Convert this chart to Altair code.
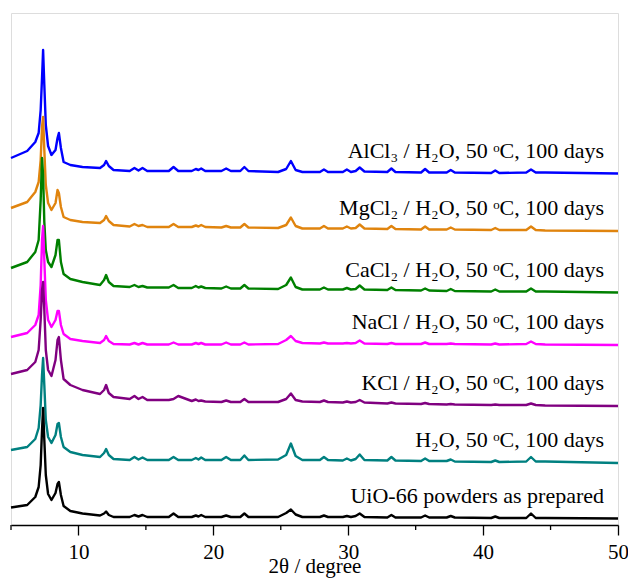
import altair as alt
import pandas as pd

# 2theta grid (degree)
theta = [5.0, 6.2, 6.8, 7.05, 7.2, 7.3, 7.38, 7.47, 7.58, 7.75, 8.0, 8.3, 8.45, 8.55, 8.7, 8.9,
         9.4, 10.3, 11.6, 11.9, 12.05, 12.25, 12.6, 13.8, 14.15, 14.45, 14.75, 15.1, 16.7, 17.05,
         17.4, 18.4, 18.7, 18.9, 19.1, 19.4, 20.6, 20.95, 21.3, 22.0, 22.3, 22.6, 24.8, 25.4,
         25.75, 26.1, 26.6, 27.9, 28.2, 28.5, 29.6, 29.9, 30.2, 30.55, 30.85, 31.2, 32.9, 33.2,
         33.5, 35.4, 35.7, 36.0, 37.3, 37.6, 37.9, 40.6, 40.9, 41.2, 43.2, 43.55, 43.9, 44.6, 50.0]

alcl3 = [367, 374, 383, 392, 415, 447, 475, 440, 400, 379, 370, 375, 387, 392, 377, 363, 360, 358,
         357, 360, 364, 359, 355, 354, 357, 354.5, 357, 354, 354, 358, 354, 354, 356, 355, 356.5,
         354, 354, 356.5, 354, 354, 358, 354, 353, 356, 364, 355, 353, 353, 355.5, 353, 353, 355.5,
         353, 354, 357.5, 353.5, 353, 356.5, 353, 352.5, 356, 352.5, 352.5, 355, 352.5, 352, 354.5,
         352, 352.5, 355.5, 352.5, 352.5, 351.5]
mgcl2 = [317, 323, 333, 343, 365, 398, 408, 375, 340, 322, 315, 322, 335, 332, 318, 308, 305, 303,
         302, 305, 309, 304, 300, 298.5, 301, 299, 300, 298, 298, 301, 298, 298, 299.5, 298.5, 300,
         298, 297.5, 299, 297.5, 297.5, 301, 297.5, 297, 300, 307.5, 299, 296.5, 296.5, 299, 296.5,
         296.5, 298.5, 296.5, 297, 300.5, 296.5, 296, 299, 296, 295.5, 298.5, 295.5, 295.5, 297.5,
         295.5, 295, 297, 295, 295, 298.5, 295, 294.5, 294]
cacl2 = [257, 263, 273, 285, 325, 367, 350, 303, 275, 263, 258, 270, 285, 285, 263, 251, 246, 243,
         240, 245, 250, 243, 239, 238, 240, 238, 239, 237.5, 237.5, 240, 237, 237, 239, 237.5, 238.5,
         237, 236.5, 238.5, 236.5, 236.5, 240, 236.5, 236, 240, 247.5, 238, 235.5, 235.5, 237.5,
         235.5, 235.5, 237, 235.5, 236, 239.5, 235.5, 235, 237.5, 235, 234.5, 236.5, 234.5, 234, 236,
         234, 233.5, 235.5, 233.5, 233.5, 236.5, 233.5, 233.5, 232.5]
nacl = [188, 192, 200, 210, 240, 285, 299, 265, 225, 205, 198, 205, 214, 214, 200, 191, 186, 184,
        182, 185, 189, 184, 181, 180.5, 182, 180.5, 182, 180.5, 180.5, 182.5, 180.5, 180.5, 182, 181,
        182, 180.5, 180.5, 182.5, 180.5, 180.5, 182.5, 180.5, 181, 185, 189, 184, 182, 181.5, 182.5,
        181.5, 181.5, 182, 181.5, 182, 184.5, 181.5, 181, 182, 181, 181, 182.5, 181, 181, 181.5, 181,
        180.5, 181.5, 180.5, 181, 183.5, 181, 180.5, 180]
kcl = [151, 155, 163, 175, 205, 235, 243, 215, 175, 155, 149, 165, 185, 188, 165, 146, 140, 135,
       131, 135, 140, 132, 128, 126, 129, 126, 128, 125, 125, 126, 129, 124, 125.5, 124, 124.5, 123.5,
       123, 124.5, 123, 123, 126, 123, 123, 126, 131.5, 125, 123.5, 123, 124.5, 123, 122.5, 123.5,
       122.5, 123, 125, 122.5, 121.5, 122.5, 121.5, 121, 122, 121, 120.5, 121, 120.5, 120, 120.5,
       120, 120, 121.5, 120, 119.5, 119]
h2o = [75, 78, 86, 97, 120, 150, 167, 140, 105, 88, 82, 90, 101, 102, 88, 78, 73, 70, 68, 72, 76,
       70, 66, 65, 68, 65.5, 67.5, 65, 65, 68, 65, 65, 67, 65.5, 67.5, 65, 65, 68, 65, 65, 69.5, 65,
       65.5, 70, 81.5, 69, 65, 65, 68, 65, 64.5, 66.5, 64.5, 66, 70.5, 65, 64.5, 68, 64.5, 64, 66.5,
       64, 64, 65.5, 63.5, 63, 64.5, 63, 63.5, 68, 63.5, 63.5, 62]
uio66 = [17.5, 20, 28, 38, 60, 95, 117, 85, 50, 31, 25, 32, 41, 43, 30, 19, 14, 11.5, 9.5, 11.5,
         13.5, 10, 8, 8, 10, 8.5, 10, 8, 8, 11.5, 8, 8, 9.5, 8.5, 10, 8, 8, 9.5, 8, 8, 11.5, 8, 8, 12,
         15.5, 10.5, 8, 8, 9.5, 8, 8, 9, 8, 9, 11.5, 8, 7.5, 10, 7.5, 7.5, 9.5, 7.5, 7.5, 9, 7.5, 7,
         8.5, 7, 7, 11.5, 7, 7, 6.5]

labels = ["AlCl\u2083 / H\u2082O, 50 \u1d52C, 100 days",
          "MgCl\u2082 / H\u2082O, 50 \u1d52C, 100 days",
          "CaCl\u2082 / H\u2082O, 50 \u1d52C, 100 days",
          "NaCl / H\u2082O, 50 \u1d52C, 100 days",
          "KCl / H\u2082O, 50 \u1d52C, 100 days",
          "H\u2082O, 50 \u1d52C, 100 days",
          "UiO-66 powders as prepared"]
colors = ["#0000FF", "#E0840E", "#008000", "#FF00FF", "#800080", "#008080", "#000000"]
series = [alcl3, mgcl2, cacl2, nacl, kcl, h2o, uio66]

major_ticks = [10, 20, 30, 40, 50]
minor_ticks = [5, 15, 25, 35, 45]

FONT = "Times New Roman, Liberation Serif, serif"
W, H = 607, 512

xscale = alt.Scale(domain=[5, 50], nice=False, zero=False)
yscale = alt.Scale(domain=[0, 512], nice=False, zero=False)
xaxis = alt.Axis(values=major_ticks, title="2θ / degree", grid=False, tickSize=10,
                 tickWidth=1.3, domainWidth=1.3, tickColor="black", domainColor="black",
                 labelFont=FONT, labelFontSize=21, labelColor="black", labelPadding=6,
                 labelFlush=False, labelOverlap=False,
                 titleFont=FONT, titleFontSize=21, titleFontWeight="normal", titleColor="black",
                 titlePadding=-7)

layers = []
for vals, col in zip(series, colors):
    df = pd.DataFrame({"theta": theta, "intensity": vals})
    layers.append(
        alt.Chart(df).mark_line(color=col, strokeWidth=2.4, strokeJoin="round").encode(
            x=alt.X("theta:Q", scale=xscale, axis=xaxis),
            y=alt.Y("intensity:Q", scale=yscale, axis=None),
        )
    )

minor_df = pd.DataFrame({"theta": minor_ticks})
minor = alt.Chart(minor_df).mark_rule(color="black", strokeWidth=1.3).encode(
    x=alt.X("theta:Q", scale=xscale, axis=xaxis),
    y=alt.value(H), y2=alt.value(H + 5),
)

label_df = pd.DataFrame({"label": labels, "intensity": [s[-1] + 23 for s in series]})
text = alt.Chart(label_df).mark_text(align="right", baseline="middle", font=FONT,
                                     fontSize=22, color="black").encode(
    x=alt.value(593),
    y=alt.Y("intensity:Q", scale=yscale, axis=None),
    text="label:N",
)

chart = alt.layer(*layers, minor, text).properties(
    width=W, height=H,
    autosize=alt.AutoSizeParams(type="none"),
    padding={"left": 3, "top": 5, "right": 10, "bottom": 54},
).configure_view(stroke="#222222", strokeWidth=1.5).configure(background="white")

chart.save("out.html", embed_options={"renderer": "svg", "actions": False})
